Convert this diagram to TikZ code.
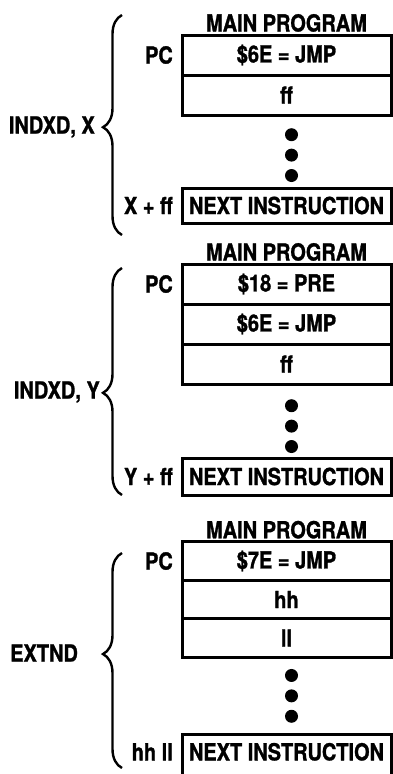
\documentclass[tikz,border=0pt]{standalone}
\usepackage{fontspec}
\setmainfont{TeX Gyre Heros}[FakeStretch=0.85, BoldFeatures={FakeBold=1.2}]
\usetikzlibrary{positioning,decorations.pathreplacing}

\begin{document}
\begin{tikzpicture}[
      x=1pt, y=-1pt,
      every node/.style={font=\fontsize{23.5}{26}\selectfont\bfseries, inner sep=0pt},
      cell/.style={draw, line width=3pt, outer sep=0pt, minimum width=209pt,
          minimum height=40pt},
      nextcell/.style={cell, minimum height=35pt},
      ellip/.style={circle, fill, minimum size=13pt},
      brc/.style={decorate, decoration={brace, amplitude=19pt, aspect=#1},
          line width=2.4pt}
    ]
    \useasboundingbox (0,0) rectangle (393,774);

    % INDXD, X
    \node[cell] (jmpx) at (286.5,55) {\$6E = JMP};
    \node[cell, below=0pt of jmpx] (offx) {ff};
    \node[above=3pt of jmpx] (titlex) {MAIN PROGRAM};
    \node[left=9pt of jmpx] (pcx) {PC};
    \node[ellip, below=13pt of offx, xshift=5pt] (dx1) {};
    \node[ellip, below=7pt of dx1] (dx2) {};
    \node[ellip, below=7pt of dx2] (dx3) {};
    \node[nextcell, below=73pt of offx] (nextx) {NEXT INSTRUCTION};
    \node[left=9pt of nextx] (effx) {X + ff};
    \coordinate (xbot) at (122,235);
    \coordinate (xtop) at (122,15);
    \draw[brc=0.49] (xbot) -- (xtop);
    \node[anchor=east] (modex) at (95,127) {INDXD, X};

    % INDXD, Y
    \node[cell] (prey) at (286.5,284) {\$18 = PRE};
    \node[cell, below=0pt of prey] (jmpy) {\$6E = JMP};
    \node[cell, below=0pt of jmpy] (offy) {ff};
    \node[above=3pt of prey] (titley) {MAIN PROGRAM};
    \node[left=9pt of prey] (pcy) {PC};
    \node[ellip, below=15pt of offy, xshift=5pt] (dy1) {};
    \node[ellip, below=7pt of dy1] (dy2) {};
    \node[ellip, below=7pt of dy2] (dy3) {};
    \node[nextcell, below=74pt of offy, minimum height=37pt] (nexty) {NEXT INSTRUCTION};
    \node[left=9pt of nexty] (effy) {Y + ff};
    \coordinate (ybot) at (122,495);
    \coordinate (ytop) at (122,268);
    \draw[brc=0.45] (ybot) -- (ytop);
    \node[anchor=east] (modey) at (100,392) {INDXD, Y};

    % EXTND
    \node[cell, minimum height=38.5pt] (jmpe) at (286.5,561) {\$7E = JMP};
    \node[cell, minimum height=38.5pt, below=0pt of jmpe] (hie) {hh};
    \node[cell, minimum height=38.5pt, below=0pt of hie] (loe) {ll};
    \node[above=3pt of jmpe] (titlee) {MAIN PROGRAM};
    \node[left=9pt of jmpe] (pce) {PC};
    \node[ellip, below=11.5pt of loe, xshift=5pt] (de1) {};
    \node[ellip, below=7pt of de1] (de2) {};
    \node[ellip, below=7pt of de2] (de3) {};
    \node[nextcell, below=77.5pt of loe, minimum height=46pt] (nexte) {};
    \node[below=8pt of nexte.north] (nexttxt) {NEXT INSTRUCTION};
    \path (nexte.west |- nexttxt) coordinate (hlrow);
    \node[left=9pt of hlrow] (addre) {hh ll};
    \coordinate (ebot) at (122,768);
    \coordinate (etop) at (122,553);
    \draw[brc=0.53] (ebot) -- (etop);
    \node[anchor=west] (modee) at (10,653) {EXTND};
  \end{tikzpicture}
\end{document}
